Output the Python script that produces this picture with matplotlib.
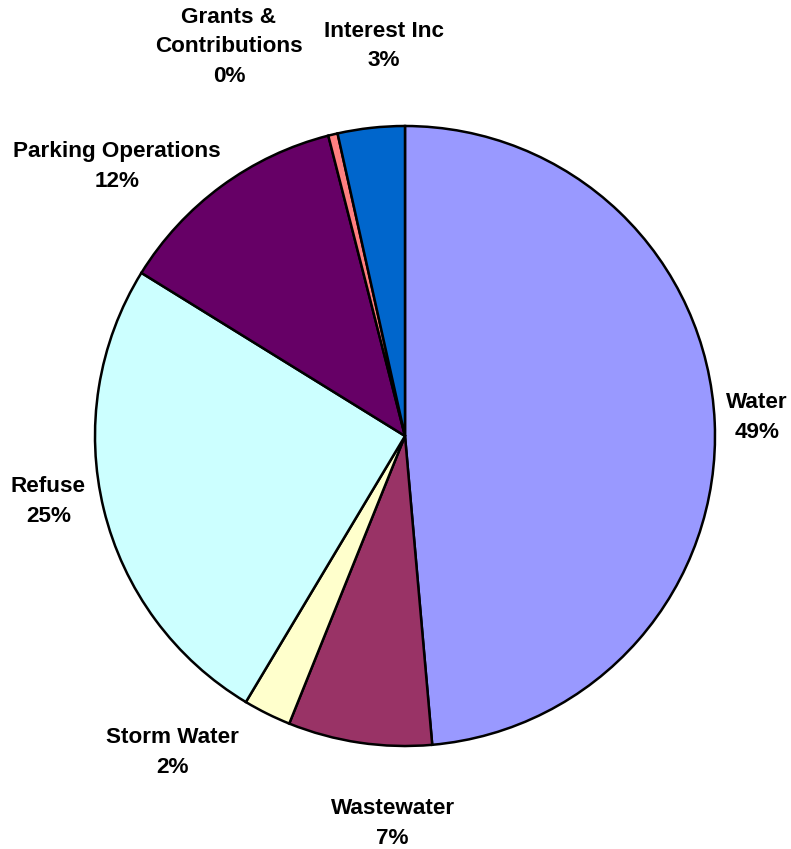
import matplotlib.pyplot as plt

# Revenue sources, share of total (%)
sources = ["Water", "Wastewater", "Storm Water", "Refuse",
           "Parking Operations", "Grants &\nContributions", "Interest Inc"]
shares = [48.6, 7.49, 2.49, 25.24, 12.2, 0.49, 3.49]
colors = ["#9999FF", "#993366", "#FFFFCC", "#CCFFFF",
          "#660066", "#FF8080", "#0066CC"]

# label centres, in pie-radius units from the centre
label_xy = [(1.135, 0.06), (-0.04, -1.25), (-0.75, -1.02), (-1.15, -0.21),
            (-0.93, 0.87), (-0.568, 1.255), (-0.068, 1.258)]

W, H = 791, 849
cx, cy, r = 405, 436, 310

fig = plt.figure(figsize=(W / 100, H / 100), dpi=100)
ax = fig.add_axes([0, 0, 1, 1])

ax.pie(shares, colors=colors, startangle=90, counterclock=False,
       radius=1.0, wedgeprops=dict(edgecolor="black", linewidth=1.8))

# pie() resets the limits, so set them afterwards
ax.set_xlim(-cx / r, (W - cx) / r)
ax.set_ylim((cy - H) / r, cy / r)
ax.set_aspect("auto")
ax.axis("off")

for name, val, (x, y) in zip(sources, shares, label_xy):
    ax.text(x, y, f"{name}\n{round(val)}%", ha="center", va="center",
            multialignment="center", fontsize=16.2, fontweight="bold",
            family=["Liberation Sans", "DejaVu Sans"], linespacing=1.55)

fig.savefig("out.png", dpi=100)
